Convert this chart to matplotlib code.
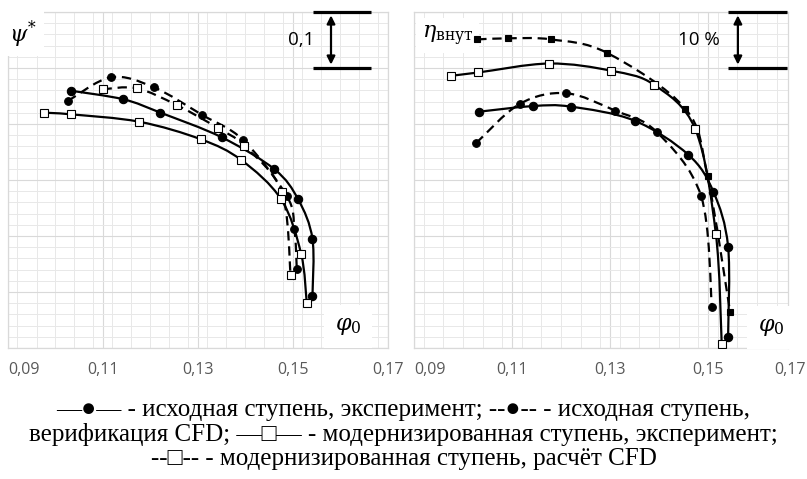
import numpy as np
import matplotlib
matplotlib.use("Agg")
import matplotlib.pyplot as plt
from matplotlib.path import Path
from matplotlib.patches import PathPatch
from matplotlib.ticker import MultipleLocator

plt.rcParams['mathtext.fontset'] = 'dejavuserif'

# ------------ data: left chart, psi* vs phi0 ---------------
psi_orig_exp_x = [0.1032, 0.1143, 0.1221, 0.1350, 0.1461, 0.1511, 0.1541, 0.1541]
psi_orig_exp_y = [0.7595, 0.7441, 0.7202, 0.6762, 0.6191, 0.5652, 0.4946, 0.3934]
psi_orig_cfd_x = [0.1026, 0.1117, 0.1207, 0.1309, 0.1395, 0.1487, 0.1503, 0.1508]
psi_orig_cfd_y = [0.7411, 0.7834, 0.7655, 0.7161, 0.6714, 0.5714, 0.5125, 0.4405]
psi_mod_exp_x = [0.0976, 0.1032, 0.1176, 0.1306, 0.1391, 0.1475, 0.1517, 0.1529]
psi_mod_exp_y = [0.7202, 0.7173, 0.7041, 0.6727, 0.6357, 0.5655, 0.4687, 0.3795]
psi_mod_cfd_x = [0.1099, 0.1171, 0.1255, 0.1343, 0.1397, 0.1476, 0.1495]
psi_mod_cfd_y = [0.7620, 0.7638, 0.7339, 0.6923, 0.6612, 0.5791, 0.4304]

# ------------ data: right chart, eta (%) vs phi0 ---------------
eta_orig_exp_x = [0.1033, 0.1142, 0.1220, 0.1350, 0.1460, 0.1511, 0.1541, 0.1541]
eta_orig_exp_y = [72.2, 73.2, 73.1, 70.6, 64.5, 57.9, 48.1, 32.0]
eta_orig_cfd_x = [0.1027, 0.1116, 0.1210, 0.1310, 0.1395, 0.1486, 0.1508]
eta_orig_cfd_y = [66.6, 73.6, 75.5, 72.4, 68.6, 57.1, 37.3]
eta_mod_exp_x = [0.0975, 0.1031, 0.1176, 0.1303, 0.1390, 0.1474, 0.1516, 0.1528]
eta_mod_exp_y = [78.6, 79.2, 80.8, 79.5, 77.0, 69.1, 50.4, 30.7]
eta_mod_cfd_x = [0.1029, 0.1092, 0.1180, 0.1294, 0.1454, 0.1499, 0.1545]
eta_mod_cfd_y = [85.1, 85.3, 85.1, 82.7, 72.7, 60.7, 36.5]

xticks = [0.09, 0.11, 0.13, 0.15, 0.17]
xtick_labels = ['0,09', '0,11', '0,13', '0,15', '0,17']

legend_lines = [
    '—●— - исходная ступень, эксперимент; --●-- - исходная ступень,',
    'верификация CFD; —□— - модернизированная ступень, эксперимент;',
    '--□-- - модернизированная ступень, расчёт CFD',
]

DASH = (0, (4.2, 2.6))
TICK_FS = 11.5


def smooth_path(x, y):
    # Catmull-Rom through the points, as cubic Bezier segments
    pts = np.column_stack([x, y])
    n = len(pts)
    verts = [pts[0]]
    codes = [Path.MOVETO]
    for i in range(n - 1):
        p0 = pts[max(i - 1, 0)]
        p1 = pts[i]
        p2 = pts[i + 1]
        p3 = pts[min(i + 2, n - 1)]
        verts += [p1 + (p2 - p0) / 6, p2 - (p3 - p1) / 6, p2]
        codes += [Path.CURVE4] * 3
    return Path(verts, codes)


def draw_series(ax, x, y, ls, marker, mfc, ms):
    ax.add_patch(PathPatch(smooth_path(x, y), fill=False, lw=1.6,
                           edgecolor='black', linestyle=ls, zorder=4))
    ax.plot(x, y, linestyle='none', marker=marker, ms=ms, mfc=mfc,
            mec='black', mew=0.8, zorder=5)


def setup_axes(ax, xmax, ymin, ymax, ymajor, yminor):
    ax.set_xlim(0.09, xmax)
    ax.set_ylim(ymin, ymax)
    ticks = [t for t in xticks if t <= xmax + 1e-9]
    ax.set_xticks(ticks)
    ax.set_xticklabels(xtick_labels[:len(ticks)], fontsize=TICK_FS,
                       color='#595959', family='Open Sans')
    ax.xaxis.set_minor_locator(MultipleLocator(0.004))
    ax.yaxis.set_major_locator(MultipleLocator(ymajor))
    ax.yaxis.set_minor_locator(MultipleLocator(yminor))
    ax.set_yticklabels([])
    ax.tick_params(which='both', length=0, pad=10)
    ax.grid(which='major', color='#d9d9d9', lw=0.8)
    ax.grid(which='minor', color='#e8e8e8', lw=0.7)
    ax.set_axisbelow(True)
    for s in ax.spines.values():
        s.set_color('#d9d9d9')
        s.set_linewidth(0.9)
    ax.get_xticklabels()[0].set_horizontalalignment('left')


def scale_bar(ax, x0, x1, xa, xt, ytop, ybot, label):
    for yy in (ytop, ybot):
        ax.plot([x0, x1], [yy, yy], color='black', lw=2.3,
                solid_capstyle='butt', clip_on=False, zorder=6)
    span = ytop - ybot
    ax.annotate('', xy=(xa, ytop - span * 0.06), xytext=(xa, ybot + span * 0.06),
                arrowprops=dict(arrowstyle='<|-|>', color='black', lw=1.6,
                                mutation_scale=12, shrinkA=0, shrinkB=0),
                zorder=6)
    ax.text(xt, (ytop + ybot) / 2, label, fontsize=13.5, family='Open Sans',
            ha='center', va='center', zorder=6)


fig = plt.figure(figsize=(8.07, 4.79), dpi=100)
axl = fig.add_axes([8 / 807, 1 - 348 / 479, 380 / 807, 336 / 479])
axr = fig.add_axes([414 / 807, 1 - 348 / 479, 374 / 807, 336 / 479])

# ------------ left: psi* ---------------
setup_axes(axl, 0.17, 0.3, 0.9, 0.1, 0.02)
draw_series(axl, psi_orig_cfd_x, psi_orig_cfd_y, DASH, 'o', 'black', 5.5)
draw_series(axl, psi_mod_cfd_x, psi_mod_cfd_y, DASH, 's', 'white', 5.2)
draw_series(axl, psi_orig_exp_x, psi_orig_exp_y, '-', 'o', 'black', 6)
draw_series(axl, psi_mod_exp_x, psi_mod_exp_y, '-', 's', 'white', 5.2)
scale_bar(axl, 0.1542, 0.1664, 0.1580, 0.1517, 0.9, 0.8, '0,1')
axl.text(0.04, 0.935, r'$\psi^{*}$', transform=axl.transAxes, fontsize=16,
         ha='center', va='center', zorder=3,
         bbox=dict(facecolor='white', edgecolor='none', pad=5))
axl.text(0.895, 0.065, r'$\varphi_0$', transform=axl.transAxes, fontsize=16,
         ha='center', va='center', zorder=3,
         bbox=dict(facecolor='white', edgecolor='none', pad=8))

# ------------ right: eta ---------------
xmax_r = 0.09 + 374 / 4900
setup_axes(axr, xmax_r, 30, 90, 10, 2)
axr.annotate('0,17', xy=(0.1667, 0), xycoords=('data', 'axes fraction'),
             xytext=(0, -10), textcoords='offset points', annotation_clip=False,
             fontsize=TICK_FS, color='#595959', family='Open Sans',
             ha='center', va='top')
draw_series(axr, eta_orig_cfd_x, eta_orig_cfd_y, DASH, 'o', 'black', 5.5)
draw_series(axr, eta_mod_cfd_x, eta_mod_cfd_y, DASH, 's', 'black', 4.8)
draw_series(axr, eta_orig_exp_x, eta_orig_exp_y, '-', 'o', 'black', 6)
draw_series(axr, eta_mod_exp_x, eta_mod_exp_y, '-', 's', 'white', 5.2)
scale_bar(axr, 0.1541, 0.1661, 0.1561, 0.1482, 90, 80, '10 %')
axr.text(0.09, 0.93, r'$\eta_{\mathrm{внут}}$', transform=axr.transAxes,
         fontsize=16, ha='center', va='center', zorder=3,
         bbox=dict(facecolor='white', edgecolor='none', pad=4))
axr.text(0.955, 0.06, r'$\varphi_0$', transform=axr.transAxes, fontsize=16,
         ha='center', va='center', zorder=3,
         bbox=dict(facecolor='white', edgecolor='none', pad=8))

# ------------ caption ---------------
for i, line in enumerate(legend_lines):
    fig.text(0.5, 1 - (410 + 24.5 * i) / 479, line, ha='center', va='center',
             fontsize=18, family=['Liberation Serif', 'DejaVu Sans'])

fig.savefig('out.png', dpi=100)
